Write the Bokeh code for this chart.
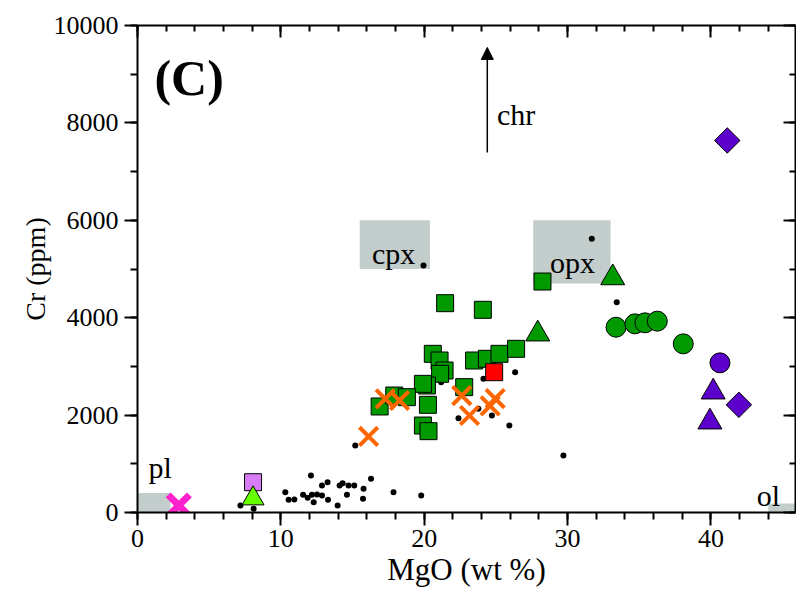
from bokeh.plotting import figure
from bokeh.models import (Range1d, LinearAxis, SingleIntervalTicker, Label, Title,
                          Arrow, NormalHead, CustomJSTickFormatter)
from bokeh.embed import file_html
from bokeh.resources import INLINE
import math

FONT = "'Liberation Serif'"

# ---- data (MgO wt %, Cr ppm) ----
dots_x = [7.18, 8.10, 10.31, 10.54, 10.94, 11.55, 11.87, 12.17, 12.29, 12.52, 12.87,
          13.29, 12.10, 12.87, 13.26, 13.96, 14.10, 14.31, 14.61, 14.72, 15.12, 15.77,
          15.73, 16.29, 17.86, 19.79, 15.19, 21.18, 24.13, 26.34, 22.39, 24.72, 25.94,
          29.71, 19.95, 33.43, 31.69, 23.78]
dots_y = [144, 76, 417, 261, 267, 363, 302, 363, 211, 370, 349,
          261, 760, 554, 622, 144, 554, 602, 363, 554, 554, 487,
          281, 692, 417, 349, 1376, 2676, 2745, 2881, 1937, 1992, 1786,
          1170, 5072, 4318, 5620, 2129]

gsq_x = [21.46, 24.09, 20.60, 21.07, 21.42, 21.11, 23.48, 24.37, 25.25, 26.41,
         20.19, 19.91, 20.26, 19.91, 20.30, 16.89, 17.91, 18.79, 22.79, 28.25]
gsq_y = [4298, 4162, 3258, 3121, 2916, 2848, 3121, 3156, 3258, 3361,
         2608, 2642, 2211, 1786, 1670, 2177, 2402, 2368, 2574, 4743]

red_sq_x = [24.88]
red_sq_y = [2881]

orange_x_x = [16.12, 17.28, 18.28, 22.62, 23.16, 24.60, 24.95]
orange_x_y = [1561, 2334, 2300, 2402, 1992, 2190, 2340]

magenta_x_x = [2.88]
magenta_x_y = [144]

violet_sq_x = [8.06]
violet_sq_y = [622]

lime_tri_x = [8.06]
lime_tri_y = [287]

gtri_x = [27.92, 33.15]
gtri_y = [3665, 4819]

gcirc_x = [33.38, 34.70, 35.40, 36.26, 38.07]
gcirc_y = [3805, 3874, 3895, 3929, 3463]

pcirc_x = [40.63]
pcirc_y = [3073]

ptri_x = [40.16, 39.93]
ptri_y = [2474, 1858]

pdia_x = [41.95, 41.14]
pdia_y = [2211, 7639]

# mineral fields (grey boxes)
box_names = ["pl", "cpx", "opx", "ol"]
box_left = [0.0, 15.5, 27.6, 44.0]
box_right = [2.3, 20.4, 33.0, 46.0]
box_bottom = [0, 5000, 4700, 0]
box_top = [400, 6000, 6000, 185]

# text labels
lab_text = ["pl", "cpx", "opx", "ol", "chr"]
lab_x = [0.77, 16.36, 28.78, 43.2, 25.07]
lab_y = [924, 5324, 5127, 349, 8172]

x_title = "MgO (wt %)"
y_title = "Cr (ppm)"

arrow_x = 24.4
arrow_y0 = 7390
arrow_y1 = 9550

GREEN = "#009900"
PURPLE = "#5c00cc"
ORANGE = "#ff6600"
MAGENTA = "#ff22cc"
GREY = "#c3cdcc"

p = figure(width=796, height=597, output_backend="svg", toolbar_location=None,
           x_range=Range1d(0, 45.9), y_range=Range1d(0, 10000),
           x_axis_location=None, y_axis_location=None,
           min_border_left=137, min_border_right=1, min_border_top=25,
           min_border_bottom=85)
p.grid.visible = False
p.outline_line_color = None
p.background_fill_color = "white"


def base_style(ax):
    ax.axis_line_width = 2
    ax.axis_line_color = "black"
    ax.major_tick_line_width = 2
    ax.minor_tick_line_width = 2
    ax.major_tick_line_color = "black"
    ax.minor_tick_line_color = "black"
    ax.major_label_text_font = FONT
    ax.major_label_text_font_size = "26px"
    ax.major_label_text_font_style = "normal"
    ax.major_label_text_color = "black"


def outer(ax):
    base_style(ax)
    ax.major_tick_in = 0
    ax.major_tick_out = 13
    ax.minor_tick_in = 0
    ax.minor_tick_out = 7


def inner(ax):
    base_style(ax)
    ax.major_tick_in = 12
    ax.major_tick_out = 0
    ax.minor_tick_in = 6
    ax.minor_tick_out = 0
    ax.formatter = CustomJSTickFormatter(code="return ''")
    ax.major_label_standoff = 0


xt = lambda: SingleIntervalTicker(interval=10, num_minor_ticks=5)
yt = lambda: SingleIntervalTicker(interval=2000, num_minor_ticks=2)

xb = LinearAxis(ticker=xt())
outer(xb)
xb.major_label_standoff = 4
p.add_layout(xb, "below")

yl = LinearAxis(ticker=yt())
outer(yl)
yl.major_label_standoff = 6
p.add_layout(yl, "left")

xa = LinearAxis(ticker=xt())
inner(xa)
p.add_layout(xa, "above")

yr = LinearAxis(ticker=yt())
inner(yr)
p.add_layout(yr, "right")

# axis titles as side-panel titles
p.add_layout(Title(text=x_title, align="center", text_font=FONT, text_font_size="31px",
                   text_font_style="normal", text_color="black", standoff=0,
                   offset=0), "below")
p.add_layout(Title(text=y_title, align="center", text_font=FONT, text_font_size="28px",
                   text_font_style="normal", text_color="black", standoff=0,
                   offset=0), "left")

# grey boxes
p.quad(left=box_left, right=box_right, bottom=box_bottom, top=box_top,
       fill_color=GREY, line_color=None)

# small black dots
p.scatter(dots_x, dots_y, marker="circle", size=6, fill_color="black", line_color=None)

# squares
p.scatter(gsq_x, gsq_y, marker="square", size=17, fill_color=GREEN,
          line_color="black", line_width=1)
p.scatter(red_sq_x, red_sq_y, marker="square", size=17, fill_color="#ff0000",
          line_color="black", line_width=1)
p.scatter(violet_sq_x, violet_sq_y, marker="square", size=17, fill_color="#d77cf5",
          line_color="black", line_width=1)

# triangles
p.scatter(lime_tri_x, lime_tri_y, marker="triangle", size=22, fill_color="#66ff00",
          line_color="black", line_width=1)
p.scatter(gtri_x, gtri_y, marker="triangle", size=24, fill_color=GREEN,
          line_color="black", line_width=1)
p.scatter(ptri_x, ptri_y, marker="triangle", size=24, fill_color=PURPLE,
          line_color="black", line_width=1)

# circles
p.scatter(gcirc_x, gcirc_y, marker="circle", size=20, fill_color=GREEN,
          line_color="black", line_width=1)
p.scatter(pcirc_x, pcirc_y, marker="circle", size=20, fill_color=PURPLE,
          line_color="black", line_width=1)

# diamonds (rotated squares)
p.scatter(pdia_x, pdia_y, marker="square", size=18, angle=math.pi / 4,
          fill_color=PURPLE, line_color="black", line_width=1)

# crosses
p.scatter(orange_x_x, orange_x_y, marker="x", size=26, line_color=ORANGE, line_width=4)
p.scatter(magenta_x_x, magenta_x_y, marker="x", size=30, line_color=MAGENTA, line_width=7)

# arrow to chromite
p.add_layout(Arrow(x_start=arrow_x, y_start=arrow_y0, x_end=arrow_x, y_end=arrow_y1,
                   line_width=1.5, line_color="black",
                   end=NormalHead(size=12, fill_color="black", line_color="black",
                                  line_width=1)))

for t, x, y in zip(lab_text, lab_x, lab_y):
    p.add_layout(Label(x=x, y=y, text=t, text_font=FONT, text_font_size="30px",
                       text_color="black", text_baseline="alphabetic"))

p.add_layout(Label(x=1.18, y=8912, text="(C)", text_font=FONT, text_font_size="50px",
                   text_font_style="bold", text_color="black",
                   text_baseline="alphabetic"))

open("out.html", "w").write(file_html(p, INLINE))
